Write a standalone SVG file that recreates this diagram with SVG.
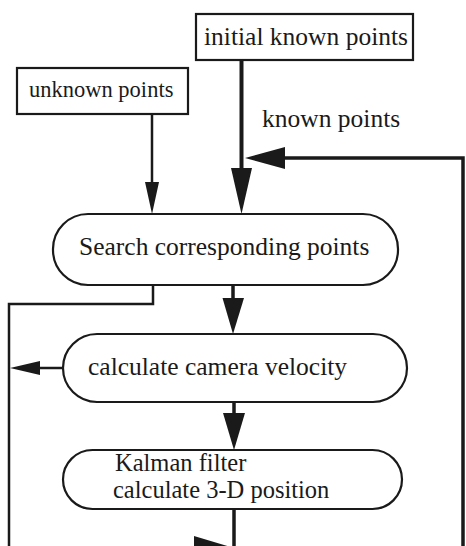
<svg xmlns="http://www.w3.org/2000/svg" width="466" height="546" viewBox="0 0 466 546">
<style>
.box{fill:#fff;stroke:#1a1a1a;stroke-width:2.2}
.t{font-family:"Liberation Serif","Times New Roman",serif;font-size:25.5px;fill:#1a1a1a}
.tk{font-family:"Liberation Serif","Times New Roman",serif;font-size:24.5px;fill:#1a1a1a}
.ts{font-family:"Liberation Serif","Times New Roman",serif;font-size:22.5px;fill:#1a1a1a}
.ln{fill:none;stroke:#1a1a1a;stroke-linecap:square}
.ah{fill:#1a1a1a}
</style>
<rect width="466" height="546" fill="#fff"/>
<g id="connectors">
<path class="ln" d="M241.5 60 V180" stroke-width="4"/>
<polygon class="ah" points="231,168 252,168 241.5,214"/>
<path class="ln" d="M463 548 V158 H280" stroke-width="3.5"/>
<polygon class="ah" points="285,147 285,169 245,158"/>
<path class="ln" d="M152 114 V190" stroke-width="2.5"/>
<polygon class="ah" points="145,182 159,182 152,214"/>
<path class="ln" d="M153 285 V304 H9 V548 H200" stroke-width="2.5"/>
<path class="ln" d="M233 285 V305" stroke-width="3.5"/>
<polygon class="ah" points="222.5,298 244,298 233,334"/>
<path class="ln" d="M63 368 H36" stroke-width="2.5"/>
<polygon class="ah" points="40,361 40,375 10,368"/>
<path class="ln" d="M234 402 V420" stroke-width="3.5"/>
<polygon class="ah" points="223,413 245,413 234,450"/>
<path class="ln" d="M234 509 V548" stroke-width="3.5"/>
<polygon class="ah" points="194,536 234,548 194,560"/>
</g>
<g id="initial">
<rect class="box" x="196" y="14" width="217" height="46"/>
<text class="t" x="204" y="45">initial known points</text>
</g>
<g id="unknown">
<rect class="box" x="17" y="68" width="171" height="46"/>
<text class="ts" x="29" y="97">unknown points</text>
</g>
<g id="known-label">
<text class="t" x="262" y="127">known points</text>
</g>
<g id="search">
<rect class="box" x="53" y="214" width="345" height="71" rx="35" ry="35"/>
<text class="t" x="79" y="255">Search corresponding points</text>
</g>
<g id="velocity">
<rect class="box" x="63" y="334" width="344" height="68" rx="34" ry="34"/>
<text class="t" x="88" y="375">calculate camera velocity</text>
</g>
<g id="kalman">
<rect class="box" x="63" y="450" width="339" height="59" rx="29.5" ry="29.5"/>
<text class="tk" x="115" y="470.5">Kalman filter</text>
<text class="tk" x="113" y="498">calculate 3-D position</text>
</g>
</svg>
